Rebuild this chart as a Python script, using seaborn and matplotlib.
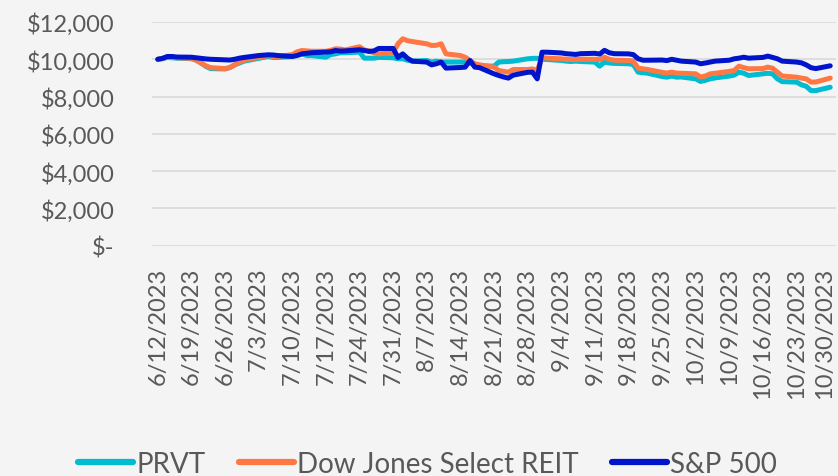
import numpy as np
import pandas as pd
import matplotlib
matplotlib.use("Agg")
import matplotlib.pyplot as plt
import matplotlib.transforms as mtransforms
import seaborn as sns

# growth of $10,000, business days 6/12/2023 - 10/30/2023
dates = pd.bdate_range("2023-06-12", "2023-10-30")

prvt = [10000, 10030, 10100, 10080, 10060, 10030, 9950, 9800, 9620, 9500,
        9480, 9560, 9700, 9800, 9900, 10050, 10100, 10150, 10100, 10100,
        10150, 10250, 10300, 10200, 10200, 10110, 10250, 10290, 10350, 10350,
        10385, 10060, 10060, 10060, 10100, 10080, 10025, 10025, 9950, 9900,
        9935, 9850, 9900, 9850, 9850, 9850, 9850, 9800, 9700, 9650,
        9630, 9850, 9870, 9880, 9900, 10025, 10050, 10050, 10000, 9990,
        9935, 9900, 9880, 9900, 9880, 9850, 9630, 9850, 9800, 9780,
        9760, 9720, 9310, 9280, 9250, 9075, 9040, 9100, 9040, 9050,
        8950, 8810, 8870, 8950, 9000, 9100, 9150, 9310, 9250, 9130,
        9220, 9250, 9220, 8950, 8800, 8775, 8630, 8550, 8320, 8320,
        8500]

reit = [10000, 10050, 10120, 10100, 10080, 10050, 9950, 9800, 9650, 9550,
        9500, 9550, 9700, 9850, 9950, 10100, 10150, 10200, 10150, 10150,
        10250, 10400, 10470, 10450, 10430, 10430, 10480, 10560, 10550, 10500,
        10670, 10500, 10450, 10350, 10290, 10350, 10830, 11100, 11000, 10950,
        10830, 10740, 10750, 10830, 10290, 10200, 10110, 9935, 9760, 9700,
        9580, 9400, 9350, 9310, 9450, 9450, 9480, 9400, 10100, 10060,
        10025, 10000, 9980, 9990, 10000, 10000, 9980, 10110, 10000, 9950,
        9935, 9900, 9520, 9490, 9450, 9300, 9260, 9310, 9260, 9250,
        9220, 9050, 9100, 9220, 9250, 9350, 9400, 9630, 9550, 9490,
        9500, 9580, 9520, 9310, 9100, 9040, 8990, 8950, 8775, 8780,
        8990]

sp500 = [10000, 10050, 10150, 10150, 10120, 10110, 10080, 10050, 10020, 10000,
         9970, 9960, 10000, 10060, 10100, 10200, 10220, 10240, 10230, 10200,
         10150, 10200, 10290, 10320, 10350, 10385, 10400, 10470, 10440, 10450,
         10510, 10470, 10420, 10450, 10580, 10580, 10100, 10290, 10050, 9900,
         9850, 9700, 9760, 9850, 9525, 9560, 9580, 9935, 9580, 9550,
         9220, 9130, 9050, 8990, 9150, 9300, 9310, 8950, 10380, 10380,
         10340, 10300, 10280, 10260, 10300, 10320, 10280, 10480, 10350, 10300,
         10290, 10250, 10030, 9950, 9950, 9960, 9930, 10000, 9950, 9900,
         9850, 9760, 9800, 9850, 9900, 9950, 10025, 10060, 10110, 10060,
         10100, 10170, 10100, 10025, 9900, 9850, 9810, 9700, 9550, 9500,
         9650]

series_names = ["PRVT", "Dow Jones Select REIT", "S&P 500"]
colors = ["#00BCD0", "#FF7843", "#0014CC"]

tick_labels = ["6/12/2023", "6/19/2023", "6/26/2023", "7/3/2023", "7/10/2023",
               "7/17/2023", "7/24/2023", "7/31/2023", "8/7/2023", "8/14/2023",
               "8/21/2023", "8/28/2023", "9/4/2023", "9/11/2023", "9/18/2023",
               "9/25/2023", "10/2/2023", "10/9/2023", "10/16/2023", "10/23/2023",
               "10/30/2023"]
y_ticks = [0, 2000, 4000, 6000, 8000, 10000, 12000]
y_labels = ["$-", "$2,000", "$4,000", "$6,000", "$8,000", "$10,000", "$12,000"]

df = pd.concat([
    pd.DataFrame({"date": dates, "value": vals, "series": name})
    for name, vals in zip(series_names, [prvt, reit, sp500])
])

BG = "#F4F4F4"
TXT = "#595959"

sns.set_theme(style="white")
plt.rcParams.update({
    "font.family": ["Lato", "DejaVu Sans"],
    "figure.facecolor": BG,
    "axes.facecolor": BG,
    "text.color": TXT,
    "xtick.color": TXT,
    "ytick.color": TXT,
})

fig = plt.figure(figsize=(8.38, 4.77), dpi=100)
ax = fig.add_axes([0.1814, 0.4828, 0.8162, 0.469])

sns.lineplot(
    data=df,
    x="date",
    y="value",
    hue="series",
    hue_order=series_names,
    palette=colors,
    linewidth=3.6,
    legend=False,
    ax=ax,
)

ax.set_ylim(0, 12000)
ax.set_yticks(y_ticks)
ax.set_yticklabels(y_labels, fontsize=17)

xt = pd.to_datetime(tick_labels, format="%m/%d/%Y")
ax.set_xlim(xt[0] - pd.Timedelta(days=1.2), xt[-1] + pd.Timedelta(days=1.2))
ax.set_xticks(xt)
ax.set_xticklabels(tick_labels, rotation=90, fontsize=17)
ax.tick_params(axis="x", length=0, pad=15)
ax.tick_params(axis="y", length=0, pad=27)

# keep the last date label inside the figure
last = ax.get_xticklabels()[-1]
last.set_transform(last.get_transform() +
                   mtransforms.ScaledTranslation(-4 / 72, 0, fig.dpi_scale_trans))

ax.set_xlabel("")
ax.set_ylabel("")
ax.grid(True, axis="y", color="#D9D9D9", linewidth=1.2)
ax.grid(False, axis="x")
for s in ax.spines.values():
    s.set_visible(False)

handles = [plt.Line2D([], [], color=c, linewidth=4.5) for c in colors]
fig.legend(handles, series_names, loc="center", bbox_to_anchor=(0.51, 0.025),
           ncol=3, frameon=False, fontsize=20, handlelength=2.0,
           handletextpad=0.1, columnspacing=1.2)

fig.savefig("out.png", dpi=100, facecolor=BG)
